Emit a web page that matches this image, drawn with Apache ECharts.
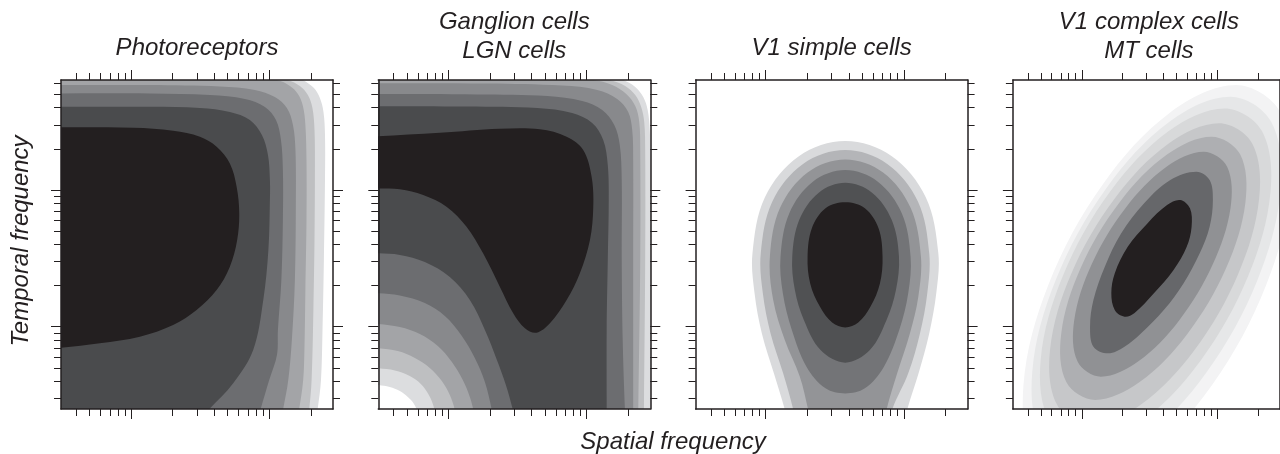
<!DOCTYPE html>
<html>
<head>
<meta charset="utf-8">
<title>Spatiotemporal frequency tuning</title>
<script src="https://cdn.jsdelivr.net/npm/echarts@6/dist/echarts.min.js"></script>
<style>
  html, body { margin: 0; padding: 0; background: #fff; }
  #chart { width: 1280px; height: 454px; }
</style>
</head>
<body>
<div id="chart"></div>
<script>
// Both axes are log10(frequency); 0 and 1 are the two labelled decades.
var spatialMinorTicks = [0.4, 0.5, 0.6, 0.7, 0.8, 0.9, 2, 3, 4, 5, 6, 7, 8, 9, 20];
var spatialMajorTicks = [1, 10];
var temporalMinorTicks = [0.3, 0.4, 0.5, 0.6, 0.7, 0.8, 0.9, 2, 3, 4, 5, 6, 7, 8, 9, 20, 30, 40, 50, 60];
var temporalMajorTicks = [1, 10];
var spatialRange = [-0.508, 1.462];
var temporalRange = [-0.602, 1.805];

var panelTitles = [['Photoreceptors'], ['Ganglion cells', 'LGN cells'], ['V1 simple cells'], ['V1 complex cells', 'MT cells']];

// contour outlines [log10 spatial, log10 temporal], lightest level first.
// points past the frame only close the shapes, the frame clips them
var photo6 = [[-1.5,1.92],[0.643,1.914],[1.114,1.878],[1.244,1.805],[1.324,1.746],[1.367,1.673],[1.393,1.571],[1.404,1.402],[1.404,1.073],[1.396,0.488],[1.386,-0.024],[1.375,-0.39],[1.351,-0.602],[1.331,-0.719],[1.32,-1.5],[-1.5,-1.5]];
var photo5 = [[-1.5,1.88],[0.498,1.878],[1.005,1.849],[1.136,1.805],[1.222,1.761],[1.28,1.695],[1.313,1.6],[1.328,1.439],[1.331,1.146],[1.328,0.634],[1.32,0.122],[1.307,-0.39],[1.29,-0.602],[1.273,-0.719],[1.26,-1.5],[-1.5,-1.5]];
var photo4 = [[-1.5,1.83],[0.136,1.827],[0.788,1.819],[1.056,1.805],[1.15,1.761],[1.208,1.702],[1.244,1.614],[1.262,1.476],[1.27,1.219],[1.27,0.781],[1.262,0.268],[1.255,-0.17],[1.246,-0.39],[1.217,-0.602],[1.193,-0.719],[1.15,-1.5],[-1.5,-1.5]];
var photo3 = [[-1.5,1.768],[-0.65,1.768],[0.136,1.768],[0.643,1.757],[0.896,1.732],[1.041,1.68],[1.128,1.6],[1.172,1.476],[1.19,1.293],[1.193,0.927],[1.186,0.342],[1.164,-0.097],[1.138,-0.39],[1.101,-0.602],[1.078,-0.719],[1.03,-1.5],[-1.5,-1.5]];
var photo2 = [[-1.5,1.707],[-0.65,1.707],[0.136,1.706],[0.57,1.695],[0.824,1.666],[0.969,1.607],[1.049,1.512],[1.085,1.366],[1.099,1.146],[1.099,0.781],[1.088,0.342],[1.063,-0.024],[1.056,-0.207],[1.0,-0.39],[0.938,-0.602],[0.904,-0.719],[0.8,-1.5],[-1.5,-1.5]];
var photo1 = [[-1.5,1.609],[-0.65,1.609],[0.136,1.609],[0.498,1.6],[0.715,1.571],[0.86,1.512],[0.947,1.402],[0.991,1.256],[1.005,1.073],[1.005,0.927],[0.994,0.561],[0.957,0.195],[0.884,-0.17],[0.739,-0.414],[0.565,-0.604],[0.46,-0.72],[0.2,-1.5],[-1.5,-1.5]];
var photo0 = [[-1.5,1.46],[-0.65,1.46],[0.014,1.456],[0.304,1.434],[0.498,1.39],[0.619,1.317],[0.715,1.195],[0.764,1.024],[0.783,0.83],[0.768,0.634],[0.715,0.439],[0.619,0.268],[0.474,0.122],[0.304,0.012],[0.063,-0.073],[-0.227,-0.121],[-0.509,-0.154],[-0.65,-0.16],[-1.5,-0.16]];

var lgn6 = [[-1.5,1.91],[0.643,1.907],[1.114,1.863],[1.266,1.805],[1.353,1.754],[1.411,1.68],[1.443,1.585],[1.458,1.439],[1.466,1.146],[1.469,0.488],[1.466,-0.602],[1.466,-0.72],[1.466,-1.5],[-0.1,-1.5],[-0.21,-0.72],[-0.229,-0.609],[-0.254,-0.558],[-0.294,-0.514],[-0.352,-0.47],[-0.425,-0.441],[-0.507,-0.426],[-0.65,-0.41],[-1.5,-0.41]];
var lgn5 = [[-1.5,1.87],[0.498,1.863],[1.005,1.837],[1.17,1.805],[1.28,1.761],[1.353,1.695],[1.396,1.607],[1.418,1.497],[1.425,1.293],[1.425,0.488],[1.416,-0.602],[1.415,-0.72],[1.41,-1.5],[-0.05,-1.5],[-0.09,-0.72],[-0.099,-0.624],[-0.113,-0.565],[-0.146,-0.492],[-0.2,-0.419],[-0.28,-0.361],[-0.388,-0.32],[-0.507,-0.304],[-0.65,-0.295],[-1.5,-0.295]];
var lgn4 = [[-1.5,1.83],[0.136,1.827],[0.788,1.816],[1.049,1.805],[1.186,1.768],[1.288,1.702],[1.353,1.614],[1.382,1.497],[1.389,1.293],[1.389,0.488],[1.375,-0.602],[1.373,-0.72],[1.37,-1.5],[0.1,-1.5],[0.06,-0.72],[0.046,-0.609],[0.01,-0.5],[-0.048,-0.397],[-0.135,-0.302],[-0.243,-0.229],[-0.367,-0.178],[-0.507,-0.158],[-0.65,-0.15],[-1.5,-0.15]];
var lgn3 = [[-1.5,1.781],[-0.65,1.781],[0.28,1.779],[0.824,1.764],[1.078,1.732],[1.222,1.666],[1.302,1.571],[1.331,1.439],[1.338,1.219],[1.338,0.488],[1.338,-0.602],[1.338,-0.72],[1.338,-1.5],[0.24,-1.5],[0.2,-0.72],[0.184,-0.624],[0.155,-0.514],[0.104,-0.39],[0.025,-0.258],[-0.077,-0.141],[-0.207,-0.053],[-0.352,-0.002],[-0.507,0.02],[-0.65,0.03],[-1.5,0.03]];
var lgn2 = [[-1.5,1.702],[-0.65,1.702],[0.208,1.699],[0.715,1.688],[0.969,1.651],[1.114,1.585],[1.201,1.476],[1.241,1.329],[1.255,1.073],[1.255,0.488],[1.262,-0.097],[1.278,-0.602],[1.284,-0.72],[1.29,-1.5],[0.37,-1.5],[0.33,-0.72],[0.314,-0.609],[0.264,-0.405],[0.191,-0.229],[0.097,-0.068],[-0.026,0.078],[-0.171,0.173],[-0.352,0.228],[-0.507,0.244],[-0.65,0.25],[-1.5,0.25]];
var lgn1 = [[-1.5,1.614],[-0.65,1.614],[0.136,1.611],[0.643,1.6],[0.896,1.563],[1.041,1.49],[1.121,1.366],[1.154,1.183],[1.161,0.927],[1.154,0.488],[1.146,-0.024],[1.146,-0.602],[1.145,-0.72],[1.145,-1.5],[0.53,-1.5],[0.49,-0.72],[0.467,-0.609],[0.416,-0.426],[0.351,-0.243],[0.264,-0.024],[0.155,0.195],[0.01,0.363],[-0.171,0.473],[-0.352,0.525],[-0.507,0.537],[-0.65,0.54],[-1.5,0.54]];
var lgn0 = [[-1.5,1.39],[-0.65,1.39],[-0.062,1.419],[0.372,1.448],[0.662,1.444],[0.856,1.39],[0.976,1.293],[1.037,1.097],[1.049,0.878],[1.025,0.634],[0.952,0.391],[0.856,0.195],[0.735,0.025],[0.638,-0.044],[0.554,-0.012],[0.469,0.098],[0.372,0.293],[0.251,0.537],[0.131,0.732],[-0.014,0.878],[-0.183,0.963],[-0.352,1.005],[-0.507,1.012],[-0.65,1.012],[-1.5,1.012]];

var simple5 = [[0.576,1.358],[0.913,1.248],[1.159,0.948],[1.25,0.537],[1.235,0.244],[1.184,-0.049],[1.107,-0.341],[1.025,-0.605],[0.991,-0.756],[0.175,-0.756],[0.138,-0.605],[0.059,-0.341],[-0.028,-0.049],[-0.081,0.244],[-0.096,0.537],[-0.006,0.948],[0.24,1.248]];
var simple4 = [[0.576,1.292],[0.88,1.191],[1.103,0.915],[1.184,0.537],[1.17,0.244],[1.117,-0.049],[1.032,-0.341],[0.916,-0.605],[0.885,-0.756],[0.228,-0.756],[0.199,-0.605],[0.126,-0.341],[0.035,-0.049],[-0.021,0.244],[-0.036,0.537],[0.047,0.915],[0.27,1.191]];
var simple3 = [[0.576,1.224],[0.85,1.129],[1.05,0.868],[1.124,0.512],[1.105,0.22],[1.044,-0.049],[0.952,-0.341],[0.875,-0.605],[0.846,-0.756],[0.339,-0.756],[0.307,-0.605],[0.247,-0.366],[0.138,-0.098],[0.054,0.195],[0.03,0.512],[0.103,0.868],[0.303,1.129]];
var simple2 = [[0.576,1.146],[0.812,1.061],[0.986,0.829],[1.049,0.512],[1.032,0.244],[0.967,-0.024],[0.856,-0.292],[0.718,-0.451],[0.576,-0.488],[0.433,-0.451],[0.295,-0.292],[0.189,-0.024],[0.124,0.244],[0.107,0.512],[0.17,0.829],[0.341,1.061]];
var simple1 = [[0.576,1.053],[0.77,0.981],[0.912,0.783],[0.965,0.512],[0.943,0.268],[0.875,0.049],[0.754,-0.171],[0.576,-0.263],[0.397,-0.171],[0.276,0.049],[0.211,0.268],[0.192,0.512],[0.243,0.783],[0.384,0.981]];
var simple0 = [[0.576,0.91],[0.718,0.866],[0.817,0.72],[0.846,0.512],[0.827,0.317],[0.759,0.147],[0.67,0.03],[0.576,-0.005],[0.481,0.03],[0.392,0.147],[0.322,0.317],[0.303,0.512],[0.334,0.72],[0.433,0.866]];

var complex7 = [[1.139,1.768],[1.463,1.572],[1.543,1.037],[1.36,0.305],[0.961,-0.426],[0.454,-0.962],[-0.026,-1.158],[-0.35,-0.962],[-0.43,-0.426],[-0.247,0.305],[0.152,1.037],[0.659,1.572]];
var complex6 = [[1.096,1.683],[1.395,1.503],[1.468,1.012],[1.296,0.342],[0.923,-0.329],[0.452,-0.82],[0.007,-0.999],[-0.292,-0.82],[-0.365,-0.329],[-0.192,0.342],[0.18,1.012],[0.651,1.503]];
var complex5 = [[1.054,1.597],[1.328,1.433],[1.392,0.985],[1.228,0.372],[0.881,-0.241],[0.445,-0.689],[0.035,-0.853],[-0.239,-0.689],[-0.303,-0.241],[-0.139,0.372],[0.207,0.985],[0.644,1.433]];
var complex4 = [[1.013,1.488],[1.257,1.34],[1.308,0.936],[1.153,0.384],[0.833,-0.168],[0.434,-0.571],[0.062,-0.719],[-0.182,-0.571],[-0.234,-0.168],[-0.079,0.384],[0.242,0.936],[0.641,1.34]];
var complex3 = [[0.957,1.39],[1.168,1.261],[1.207,0.909],[1.064,0.427],[0.777,-0.055],[0.424,-0.407],[0.098,-0.536],[-0.113,-0.407],[-0.152,-0.055],[-0.009,0.427],[0.278,0.909],[0.631,1.261]];
var complex2 = [[0.899,1.28],[1.072,1.17],[1.097,0.869],[0.967,0.458],[0.718,0.046],[0.415,-0.255],[0.141,-0.366],[-0.031,-0.255],[-0.056,0.046],[0.073,0.457],[0.323,0.869],[0.625,1.17]];
var complex1 = [[0.846,1.134],[0.943,1.073],[0.967,0.927],[0.943,0.732],[0.87,0.537],[0.75,0.317],[0.605,0.122],[0.436,-0.049],[0.315,-0.146],[0.194,-0.195],[0.086,-0.146],[0.061,0.0],[0.086,0.195],[0.17,0.439],[0.291,0.683],[0.46,0.903],[0.653,1.073]];
var complex0 = [[0.726,0.927],[0.798,0.866],[0.81,0.732],[0.774,0.585],[0.677,0.415],[0.532,0.244],[0.387,0.098],[0.315,0.073],[0.243,0.122],[0.218,0.244],[0.243,0.39],[0.339,0.585],[0.484,0.756],[0.629,0.89]];

var retinaShades = ['#dcdddf', '#bebfc1', '#a3a4a7', '#88898c', '#6c6d70', '#4a4b4d', '#231f20'];
var simpleShades = ['#d9dadc', '#b4b5b8', '#939497', '#737477', '#505153', '#231f20'];
var complexShades = ['#f3f3f4', '#e6e7e8', '#d8d9da', '#c6c7c9', '#aeafb2', '#909194', '#66676a', '#231f20'];

var panels = [
  { outlines: [photo6, photo5, photo4, photo3, photo2, photo1, photo0], shades: retinaShades },
  { outlines: [lgn6, lgn5, lgn4, lgn3, lgn2, lgn1, lgn0], shades: retinaShades },
  { outlines: [simple5, simple4, simple3, simple2, simple1, simple0], shades: simpleShades },
  { outlines: [complex7, complex6, complex5, complex4, complex3, complex2, complex1, complex0], shades: complexShades }
];

var ink = '#231f20';
var font = 'Liberation Sans, Arial, sans-serif';
var gridLeft = 61, gridStep = 317.3, gridTop = 80, gridW = 272, gridH = 329;

function log10All(arr) { return arr.map(function (v) { return Math.log10(v); }); }

function makeAxis(g, pos, ticks, len, line, range) {
  return {
    gridIndex: g, type: 'value', position: pos,
    min: range[0], max: range[1], z: 10,
    axisLine: { show: line, onZero: false, lineStyle: { color: ink, width: 1.5 } },
    axisTick: { show: true, length: len, customValues: log10All(ticks), lineStyle: { color: ink, width: 1 } },
    axisLabel: { show: false },
    splitLine: { show: false }
  };
}

var grids = [], xAxes = [], yAxes = [], series = [], texts = [];
panels.forEach(function (p, g) {
  var left = gridLeft + gridStep * g;
  grids.push({ left: left, top: gridTop, width: gridW, height: gridH });
  ['bottom', 'top'].forEach(function (pos) {
    xAxes.push(makeAxis(g, pos, spatialMinorTicks, 7, true, spatialRange));
    xAxes.push(makeAxis(g, pos, spatialMajorTicks, 10, false, spatialRange));
  });
  ['left', 'right'].forEach(function (pos) {
    yAxes.push(makeAxis(g, pos, temporalMinorTicks, 7, true, temporalRange));
    yAxes.push(makeAxis(g, pos, temporalMajorTicks, 10, false, temporalRange));
  });
  series.push({
    type: 'custom',
    xAxisIndex: g * 4,
    yAxisIndex: g * 4,
    clip: true,
    silent: true,
    data: p.outlines.map(function (o, i) { return [i]; }),
    renderItem: function (params, api) {
      var i = params.dataIndex;
      var pts = p.outlines[i].map(function (pt) { return api.coord(pt); });
      return {
        type: 'polygon',
        shape: { points: pts, smooth: 0.35 },
        style: { fill: p.shades[i] }
      };
    }
  });
  var lines = panelTitles[g];
  var ys = lines.length === 2 ? [22, 51] : [48.5];
  lines.forEach(function (t, k) {
    texts.push({
      type: 'text', x: left + gridW / 2, y: ys[k],
      style: { text: t, fill: ink, fontSize: 24, fontStyle: 'italic', fontFamily: font, align: 'center', verticalAlign: 'middle' }
    });
  });
});

texts.push({
  type: 'text', x: 673, y: 442,
  style: { text: 'Spatial frequency', fill: ink, fontSize: 24, fontStyle: 'italic', fontFamily: font, align: 'center', verticalAlign: 'middle' }
});
texts.push({
  type: 'text', x: 21, y: 241, rotation: Math.PI / 2,
  style: { text: 'Temporal frequency', fill: ink, fontSize: 24, fontStyle: 'italic', fontFamily: font, align: 'center', verticalAlign: 'middle' }
});

var chart = echarts.init(document.getElementById('chart'));
chart.setOption({
  animation: false,
  backgroundColor: '#fff',
  grid: grids,
  xAxis: xAxes,
  yAxis: yAxes,
  series: series,
  graphic: texts
});
</script>
</body>
</html>
